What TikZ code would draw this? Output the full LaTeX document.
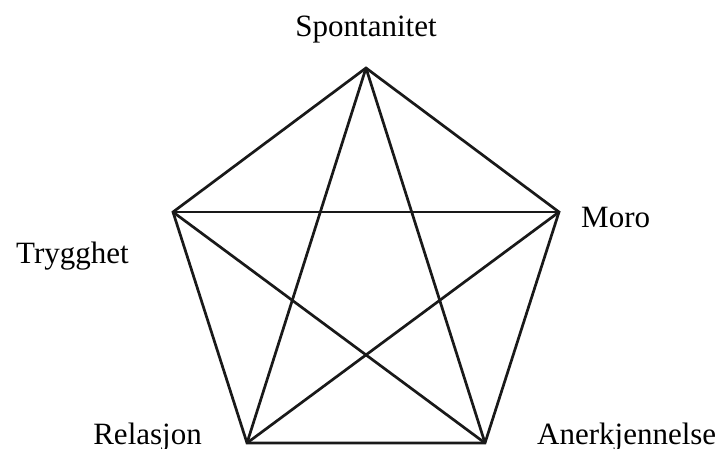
\documentclass[tikz,border=0pt]{standalone}
\usepackage{fontspec}
\setmainfont{Liberation Serif}
\begin{document}
\begin{tikzpicture}[x=1pt,y=-1pt,
  edge/.style={line width=2.7pt,black!90},
  lbl/.style={font=\fontsize{31}{36}\selectfont,anchor=base,inner sep=0pt}]
\useasboundingbox (0,0) rectangle (720,448);
\coordinate (T) at (366,68);
\coordinate (L) at (173,212);
\coordinate (R) at (559,212);
\coordinate (BL) at (247,443);
\coordinate (BR) at (485,443);
\draw[edge] (T) -- (R) -- (BR) -- (BL) -- (L) -- cycle;
\draw[edge] (T) -- (BL);
\draw[edge] (T) -- (BR);
\draw[edge] (L) -- (R);
\draw[edge] (L) -- (BR);
\draw[edge] (R) -- (BL);
\node[lbl] (spont) at (366,36) {Spontanitet};
\node[lbl,anchor=base west] (moro) at (581,227) {Moro};
\node[lbl,anchor=base west] (tryg) at (16,263) {Trygghet};
\node[lbl,anchor=base east] (rel) at (202,444) {Relasjon};
\node[lbl,anchor=base west] (aner) at (537,444) {Anerkjennelse};
\end{tikzpicture}
\end{document}
